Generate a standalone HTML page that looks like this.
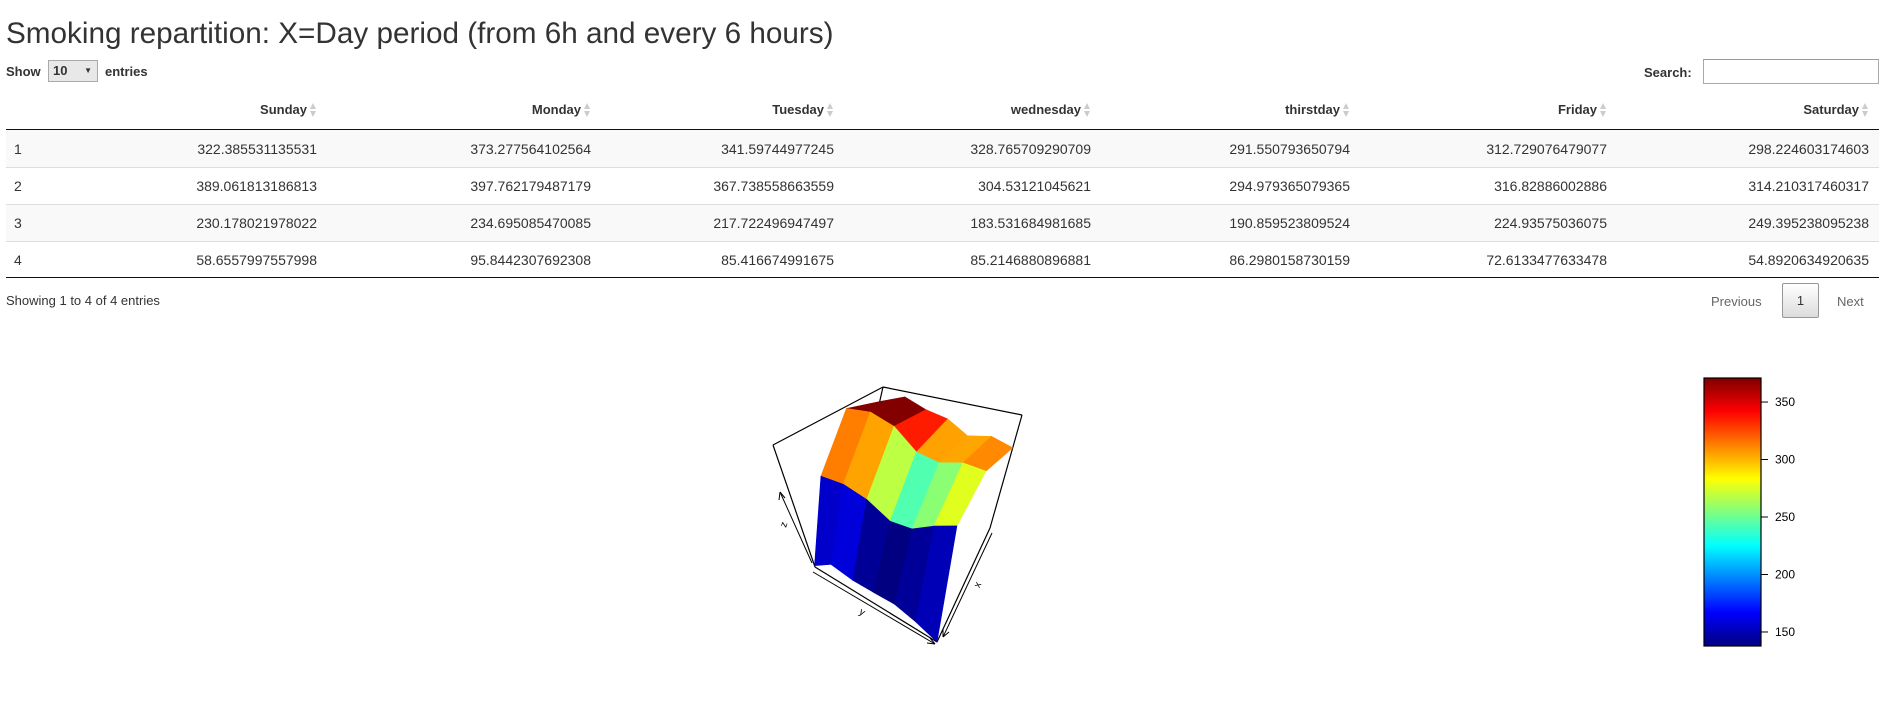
<!DOCTYPE html>
<html><head><meta charset="utf-8">
<style>
body{margin:0;width:1888px;height:728px;background:#fff;font-family:"Liberation Sans",Arial,sans-serif;color:#333;position:relative;overflow:hidden}
.a{position:absolute;white-space:nowrap}
.title{left:6px;top:17px;font-size:29.7px;color:#333}
.b{font-weight:bold;font-size:13px;color:#333}
.hd{position:absolute;top:102px;font-weight:bold;font-size:13px;color:#333;text-align:right}
.arr{position:absolute;top:101px;width:8px;height:18px}
.row{position:absolute;left:6px;width:1873px;height:37px;border-top:1px solid #ddd}
.cell{position:absolute;font-size:14px;color:#333;text-align:right;line-height:16px}
</style></head><body>
<div class="a title">Smoking repartition: X=Day period (from 6h and every 6 hours)</div>
<div class="a b" style="left:6px;top:64px">Show</div>
<div class="a" style="left:48px;top:60px;width:50px;height:22px;border:1px solid #aaa;background:#e8e8e8;box-sizing:border-box;font-size:13px;font-weight:bold;line-height:20px;padding-left:4px">10<span style="position:absolute;right:5px;top:0;font-size:8px">&#9660;</span></div>
<div class="a b" style="left:105px;top:64px">entries</div>
<div class="a b" style="left:1644px;top:65px">Search:</div>
<div class="a" style="left:1703px;top:59px;width:176px;height:25px;border:1px solid #aaa;border-top-color:#999;box-sizing:border-box;background:#fff"></div>
<div id="tbl"></div>
<div class="a" style="left:6px;top:129px;width:1873px;height:1px;background:#111"></div>
<div class="a" style="left:6px;top:277px;width:1873px;height:1px;background:#111"></div>
<div class="a" style="left:6px;top:293px;font-size:13px">Showing 1 to 4 of 4 entries</div>
<div class="a" style="left:1711px;top:294px;font-size:13px;color:#666">Previous</div>
<div class="a" style="left:1782px;top:283px;width:37px;height:35px;box-sizing:border-box;border:1px solid #979797;border-radius:2px;background:linear-gradient(#fff,#dcdcdc);font-size:13px;text-align:center;line-height:33px">1</div>
<div class="a" style="left:1837px;top:294px;font-size:13px;color:#666">Next</div>
<svg id="plot" class="a" style="left:0;top:0" width="1888" height="728"></svg>
<script>
const days=["Sunday","Monday","Tuesday","wednesday","thirstday","Friday","Saturday"];
const rowLabels=["1","2","3","4"];
const row1=[322.385531135531,373.277564102564,341.59744977245,328.765709290709,291.550793650794,312.729076479077,298.224603174603];
const row2=[389.061813186813,397.762179487179,367.738558663559,304.53121045621,294.979365079365,316.82886002886,314.210317460317];
const row3=[230.178021978022,234.695085470085,217.722496947497,183.531684981685,190.859523809524,224.93575036075,249.395238095238];
const row4=[58.6557997557998,95.8442307692308,85.416674991675,85.2146880896881,86.2980158730159,72.6133477633478,54.8920634920635];
const colorTicks=[150,200,250,300,350];
const rows=[row1,row2,row3,row4];
const colRight=[317,591,834,1091,1350,1607,1869];
const tbl=document.getElementById('tbl');
days.forEach((d,j)=>{
  const h=document.createElement('div');h.className='hd';h.textContent=d;
  h.style.right=(1888-colRight[j]+10)+'px';
  
  
  tbl.appendChild(h);
  const ar=document.createElement('div');ar.className='arr';ar.style.left=(colRight[j]-8)+'px';
  ar.innerHTML='<svg width="8" height="18"><path d="M4 2 L7 8 L1 8Z" fill="#ccc"/><path d="M4 16 L7 10 L1 10Z" fill="#ccc"/></svg>';
  
  
  tbl.appendChild(ar);
});
rows.forEach((r,i)=>{
  const rw=document.createElement('div');rw.className='row';
  rw.style.top=(130+i*37)+'px';rw.style.background=i%2==0?'#f9f9f9':'#fff';
  if(i==0)rw.style.borderTop='none';
  
  
  tbl.appendChild(rw);
  const c0=document.createElement('div');c0.className='cell';c0.textContent=rowLabels[i];
  c0.style.left='14px';c0.style.top=(130+i*37+11)+'px';
  
  
  tbl.appendChild(c0);
  r.forEach((v,j)=>{
    const c=document.createElement('div');c.className='cell';c.textContent=String(v);
    c.style.right=(1888-colRight[j])+'px';c.style.top=(130+i*37+11)+'px';
    
    
    tbl.appendChild(c);
  });
});
const svg=document.getElementById('plot');const NS='http://www.w3.org/2000/svg';
function el(t,a,name){const e=document.createElementNS(NS,t);for(const k in a)e.setAttribute(k,a[k]);
  
  
  svg.appendChild(e);return e;}
const all=rows.flat();const zmin=Math.min(...all),zmax=Math.max(...all);
const Bb=[868,453],Br=[990,528],Bl=[815,567],Bf=[937,642];
const Tb=[883,387],Tr=[1022,415],Tl=[773,445],Tf=[927,492];
const L=(p,q,t)=>[p[0]+(q[0]-p[0])*t,p[1]+(q[1]-p[1])*t];
const bil=(a,b,c,d,u,v)=>L(L(a,b,v),L(c,d,v),u);
function proj(i,j,z){const u=i/3,v=j/6,t=(z-zmin)/(zmax-zmin);
  return L(bil(Bb,Br,Bl,Bf,u,v),bil(Tb,Tr,Tl,Tf,u,v),t);}
function jet(f){f=Math.max(0,Math.min(1,f));
  const r=Math.max(0,Math.min(1,1.5-Math.abs(4*f-3))),g=Math.max(0,Math.min(1,1.5-Math.abs(4*f-2))),b=Math.max(0,Math.min(1,1.5-Math.abs(4*f-1)));
  return `rgb(${Math.round(r*255)},${Math.round(g*255)},${Math.round(b*255)})`;}
const cbMin=137.8,cbMax=370.9;
const ln=(p,q,n)=>el('line',{x1:p[0],y1:p[1],x2:q[0],y2:q[1],stroke:'#000','stroke-width':1.2},n);
ln(Tb,Tr,'box-edge');ln(Tb,Tl,'box-edge');ln(Tl,Bl,'box-edge');ln(Tr,Br,'box-edge');ln(Tb,Bb,'box-edge');
ln(Bl,Bf,'box-edge');ln(Bf,Br,'box-edge');
for(let i=0;i<3;i++)for(let j=0;j<6;j++){
  const m=(rows[i][j]+rows[i][j+1]+rows[i+1][j]+rows[i+1][j+1])/4;
  const pts=[proj(i,j,rows[i][j]),proj(i,j+1,rows[i][j+1]),proj(i+1,j+1,rows[i+1][j+1]),proj(i+1,j,rows[i+1][j])];
  el('polygon',{points:pts.map(p=>p.join(',')).join(' '),fill:jet((m-cbMin)/(cbMax-cbMin)),stroke:jet((m-cbMin)/(cbMax-cbMin)),'stroke-width':0.6},'surface-facet');
}
el('line',{x1:780,y1:492,x2:812,y2:563,stroke:'#000'},'z-axis-line');
el('path',{d:'M780 492 L779 500 M780 492 L785 498',stroke:'#000',fill:'none'},'z-axis-arrow');
el('text',{x:783,y:530,'font-size':10,transform:'rotate(-70 783 527)','font-family':'Liberation Sans, sans-serif'},'z-axis-title').textContent='z';
el('line',{x1:813,y1:572,x2:935,y2:644,stroke:'#000'},'y-axis-line');
el('path',{d:'M935 644 L927 643 M935 644 L930 638',stroke:'#000',fill:'none'},'y-axis-arrow');
el('text',{x:860,y:616,'font-size':10,transform:'rotate(30 864 612)','font-family':'Liberation Sans, sans-serif'},'y-axis-title').textContent='y';
el('line',{x1:992,y1:533,x2:943,y2:637,stroke:'#000'},'x-axis-line');
el('path',{d:'M943 637 L943 629 M943 637 L949 632',stroke:'#000',fill:'none'},'x-axis-arrow');
el('text',{x:974,y:588,'font-size':10,transform:'rotate(-65 977 584)','font-family':'Liberation Sans, sans-serif'},'x-axis-title').textContent='x';
const defs=document.createElementNS(NS,'defs');defs.innerHTML='<linearGradient id="jg" x1="0" y1="1" x2="0" y2="0"><stop offset="0" stop-color="#00007F"/><stop offset="0.125" stop-color="#0000FF"/><stop offset="0.375" stop-color="#00FFFF"/><stop offset="0.625" stop-color="#FFFF00"/><stop offset="0.875" stop-color="#FF0000"/><stop offset="1" stop-color="#7F0000"/></linearGradient>';svg.appendChild(defs);
const cbTop=378,cbBot=646;
el('rect',{x:1704,y:cbTop,width:57,height:cbBot-cbTop,fill:'url(#jg)',stroke:'#000','stroke-width':1.2},'colorbar');
const cy=v=>cbBot-(v-cbMin)/(cbMax-cbMin)*(cbBot-cbTop);
colorTicks.forEach(v=>{
  el('line',{x1:1761,y1:cy(v),x2:1768,y2:cy(v),stroke:'#000'},'colorbar-tick');
  el('text',{x:1775,y:cy(v)+4,'font-size':12,'font-family':'Liberation Sans, sans-serif'},'colorbar-tick-label').textContent=v;
});
</script>
</body></html>
